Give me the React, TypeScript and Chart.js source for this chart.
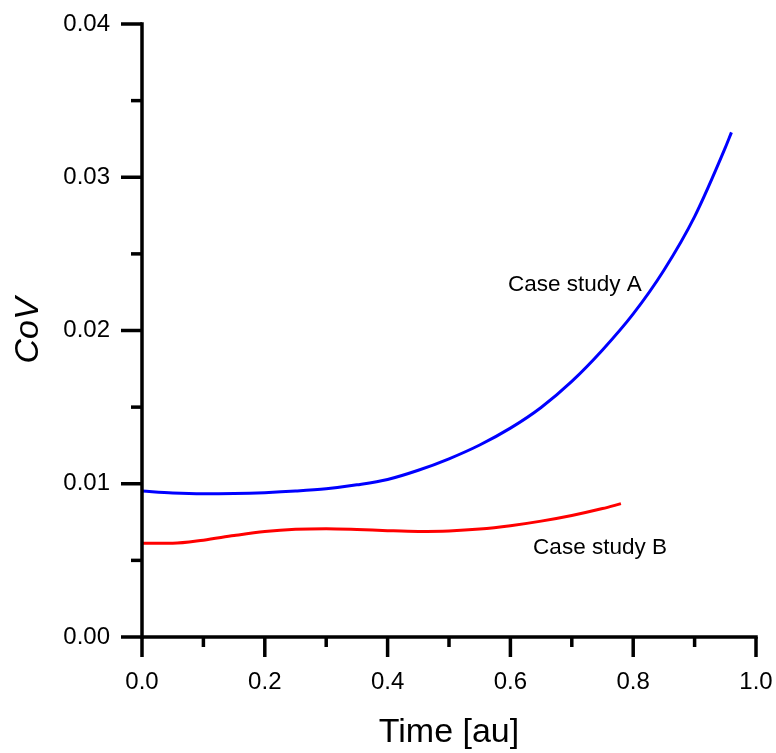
import React, { useEffect, useRef } from "react";
import { Chart, registerables } from "chart.js";

Chart.register(...registerables);

const xA = [0, 0.05, 0.1, 0.15, 0.2, 0.25, 0.3, 0.35, 0.4, 0.45, 0.5, 0.55, 0.6, 0.65, 0.7, 0.75, 0.8, 0.85, 0.9, 0.95, 0.96];
const caseA = [0.00952, 0.00939, 0.00934, 0.00936, 0.00942, 0.00952, 0.00967, 0.00993, 0.01028, 0.01088, 0.01163, 0.01253, 0.01363, 0.01498, 0.01668, 0.01873, 0.02108, 0.02393, 0.02743, 0.03193, 0.03293];
const xB = [0, 0.05, 0.1, 0.15, 0.2, 0.25, 0.3, 0.35, 0.4, 0.45, 0.5, 0.55, 0.6, 0.65, 0.7, 0.75, 0.78];
const caseB = [0.00612, 0.00612, 0.00632, 0.00662, 0.00688, 0.00703, 0.00707, 0.00702, 0.00694, 0.00689, 0.00692, 0.00704, 0.00726, 0.00756, 0.00793, 0.00838, 0.0087];
const xMajor = [0, 0.2, 0.4, 0.6, 0.8, 1.0];
const xMinor = [0.1, 0.3, 0.5, 0.7, 0.9];
const yMajor = [0, 0.01, 0.02, 0.03, 0.04];
const yMinor = [0.005, 0.015, 0.025, 0.035];
const labels = [
  { text: "Case study A", x: 0.596, y: 0.023 },
  { text: "Case study B", x: 0.637, y: 0.0058 },
];

const FONT = "'Liberation Sans', Arial, Helvetica, sans-serif";

const axesPlugin = {
  id: "axesPlugin",
  afterDatasetsDraw(chart: any) {
    const { ctx, scales } = chart;
    const xs = scales.x;
    const ys = scales.y;
    const x0 = xs.getPixelForValue(0);
    const y0 = ys.getPixelForValue(0);
    ctx.save();
    ctx.strokeStyle = "#000";
    ctx.lineWidth = 3.5;
    ctx.lineCap = "butt";
    ctx.beginPath();
    ctx.moveTo(x0, ys.getPixelForValue(0.04) - 1.75);
    ctx.lineTo(x0, y0 + 1.75);
    ctx.stroke();
    ctx.beginPath();
    ctx.moveTo(x0, y0);
    ctx.lineTo(xs.getPixelForValue(1.0) + 1.75, y0);
    ctx.stroke();
    for (const v of yMajor) {
      const p = ys.getPixelForValue(v);
      ctx.beginPath();
      ctx.moveTo(x0 - 21, p);
      ctx.lineTo(x0, p);
      ctx.stroke();
    }
    for (const v of yMinor) {
      const p = ys.getPixelForValue(v);
      ctx.beginPath();
      ctx.moveTo(x0 - 11, p);
      ctx.lineTo(x0, p);
      ctx.stroke();
    }
    for (const v of xMajor) {
      const p = xs.getPixelForValue(v);
      ctx.beginPath();
      ctx.moveTo(p, y0);
      ctx.lineTo(p, y0 + 20);
      ctx.stroke();
    }
    for (const v of xMinor) {
      const p = xs.getPixelForValue(v);
      ctx.beginPath();
      ctx.moveTo(p, y0);
      ctx.lineTo(p, y0 + 10);
      ctx.stroke();
    }
    ctx.fillStyle = "#000";
    ctx.font = `22.5px ${FONT}`;
    ctx.textAlign = "left";
    ctx.textBaseline = "middle";
    for (const l of labels) {
      ctx.fillText(l.text, xs.getPixelForValue(l.x), ys.getPixelForValue(l.y));
    }
    ctx.restore();
  },
};

const zeroPad = (s: any) => {
  s.paddingTop = 0;
  s.paddingBottom = 0;
  s.paddingLeft = 0;
  s.paddingRight = 0;
};

export default function App() {
  const ref = useRef<HTMLCanvasElement>(null);
  useEffect(() => {
    if (!ref.current) return;
    const chart = new Chart(ref.current, {
      type: "line",
      data: {
        datasets: [
          {
            label: "Case study A",
            data: xA.map((x, i) => ({ x, y: caseA[i] })),
            borderColor: "#0000ff",
            borderWidth: 3,
            pointRadius: 0,
            cubicInterpolationMode: "monotone",
            fill: false,
          },
          {
            label: "Case study B",
            data: xB.map((x, i) => ({ x, y: caseB[i] })),
            borderColor: "#ff0000",
            borderWidth: 3,
            pointRadius: 0,
            cubicInterpolationMode: "monotone",
            fill: false,
          },
        ],
      },
      options: {
        animation: false,
        responsive: false,
        layout: { padding: { top: 24, right: 20, left: 0, bottom: 0 } },
        plugins: { legend: { display: false }, tooltip: { enabled: false } },
        scales: {
          x: {
            type: "linear",
            min: 0,
            max: 1.0,
            afterFit: (s: any) => {
              s.height = 116;
              zeroPad(s);
            },
            afterBuildTicks: (s: any) => {
              s.ticks = xMajor.map((v) => ({ value: v }));
            },
            grid: { display: false, drawTicks: false },
            border: { display: false },
            ticks: {
              padding: 31,
              color: "#000",
              font: { family: FONT, size: 24 },
              maxRotation: 0,
              callback: (v: any) => Number(v).toFixed(1),
            },
            title: {
              display: true,
              text: "Time [au]",
              color: "#000",
              font: { family: FONT, size: 34 },
              padding: { top: 0, bottom: 0 },
            },
          },
          y: {
            type: "linear",
            min: 0,
            max: 0.04,
            afterFit: (s: any) => {
              s.width = 142;
              zeroPad(s);
            },
            afterBuildTicks: (s: any) => {
              s.ticks = yMajor.map((v) => ({ value: v }));
            },
            grid: { display: false, drawTicks: false },
            border: { display: false },
            ticks: {
              padding: 32,
              color: "#000",
              font: { family: FONT, size: 24 },
              callback: (v: any) => Number(v).toFixed(2),
            },
            title: {
              display: true,
              text: "CoV",
              color: "#000",
              font: { family: FONT, size: 34, style: "italic" },
              padding: { top: 8, bottom: 0 },
            },
          },
        },
      },
      plugins: [axesPlugin],
    });
    return () => chart.destroy();
  }, []);
  return (
    <div style={{ position: "absolute", left: 0, top: 0, width: 776, height: 753, background: "#fff" }}>
      <canvas ref={ref} width={776} height={753} style={{ width: 776, height: 753 }} />
    </div>
  );
}
